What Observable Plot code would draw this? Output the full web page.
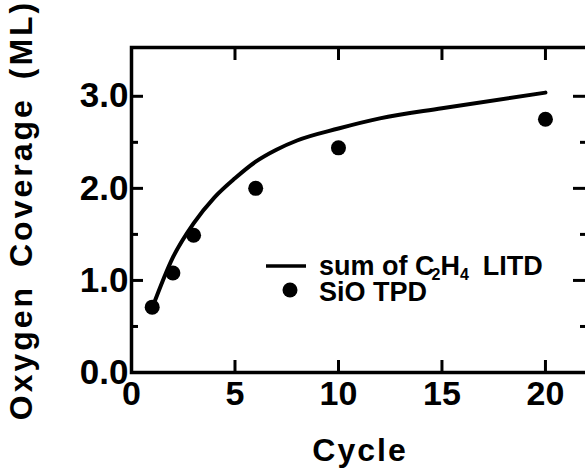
<!DOCTYPE html>
<html>
<head>
<meta charset="utf-8">
<script src="https://cdn.jsdelivr.net/npm/d3@7"></script>
<script src="https://cdn.jsdelivr.net/npm/@observablehq/plot@0.6"></script>
<style>
  html, body { margin: 0; padding: 0; background: #fff; overflow: hidden; width: 585px; height: 472px; }
  #chart { position: relative; width: 585px; height: 472px; overflow: hidden; }
  #chart svg { display: block; max-width: none !important; }
</style>
</head>
<body>
<div id="chart"></div>
<script>
// SiO TPD measurements (points)
const tpdCycles = [1, 2, 3, 6, 10, 20];
const tpdCoverage = [0.71, 1.08, 1.49, 2.0, 2.44, 2.75];

// Summed C2H4 LITD coverage (solid curve)
const litdCycles = [1, 2, 3, 4, 5, 6, 7, 8, 10, 12, 15, 20];
const litdCoverage = [0.70, 1.25, 1.62, 1.90, 2.11, 2.29, 2.42, 2.52, 2.65, 2.76, 2.87, 3.04];

// Axis ticks
const xTickValues = [0, 5, 10, 15, 20];
const yTickValues = [0, 1, 2, 3];
const yMinorValues = [0.5, 1.5, 2.5];

const xTitle = "Cycle";
const yTitle = "Oxygen Coverage (ML)";

const tpd = tpdCycles.map((c, i) => ({cycle: c, coverage: tpdCoverage[i]}));
const litd = litdCycles.map((c, i) => ({cycle: c, coverage: litdCoverage[i]}));

const W = 600, H = 472;
const mL = 131, mT = 47, mB = 100, mR = 12;
const plotW = W - mL - mR, plotH = H - mT - mB;
const FONT = "'Liberation Sans', Arial, Helvetica, sans-serif";

const chart = Plot.plot({
  width: W,
  height: H,
  marginLeft: mL,
  marginTop: mT,
  marginBottom: mB,
  marginRight: mR,
  style: {fontFamily: FONT, background: "#fff", color: "#000", overflow: "visible", maxWidth: "none"},
  x: {domain: [0, 22.08]},
  y: {domain: [0, 3.53]},
  marks: [
    // tick labels
    Plot.axisX(xTickValues, {tickSize: 0, tickPadding: 8, fontSize: 34, fontWeight: "bold", tickFormat: d => String(d), label: null}),
    Plot.axisY(yTickValues, {tickSize: 0, tickPadding: 3, fontSize: 35, fontWeight: "bold", tickFormat: d => d.toFixed(1), label: null}),
    // inward ticks: bottom and top
    Plot.tickX(xTickValues.filter(d => d > 0), {x: d => d, insetTop: plotH - 12, strokeWidth: 3}),
    Plot.tickX(xTickValues.filter(d => d > 0), {x: d => d, insetBottom: plotH - 13, strokeWidth: 3}),
    // inward ticks: left
    Plot.tickY(yTickValues.filter(d => d > 0), {y: d => d, insetRight: plotW - 12, strokeWidth: 3}),
    Plot.tickY(yMinorValues, {y: d => d, insetRight: plotW - 7, strokeWidth: 3}),
    // inward ticks: right
    Plot.tickY(yTickValues.filter(d => d > 0), {y: d => d, insetLeft: plotW - 15, strokeWidth: 3}),
    Plot.tickY(yMinorValues, {y: d => d, insetLeft: plotW - 8, strokeWidth: 3}),
    Plot.frame({strokeWidth: 3.5}),
    // data
    Plot.line(litd, {x: "cycle", y: "coverage", curve: "monotone-x", strokeWidth: 4, stroke: "#000"}),
    Plot.dot(tpd, {x: "cycle", y: "coverage", r: 7.5, fill: "#000", stroke: null}),
    // axis titles
    Plot.text([xTitle], {frameAnchor: "bottom", dy: 88, fontSize: 32, fontWeight: "bold"}),
    Plot.text([yTitle], {frameAnchor: "left", textAnchor: "middle", rotate: -90, dx: -110, fontSize: 32, fontWeight: "bold"})
  ]
});

// letter spacing on the axis titles
d3.select(chart).selectAll("text").filter(function() { return this.textContent === xTitle; })
  .style("letter-spacing", "2px");
d3.select(chart).selectAll("text").filter(function() { return this.textContent === yTitle; })
  .style("letter-spacing", "3px").style("word-spacing", "6px");

document.getElementById("chart").appendChild(chart);

// legend drawn inside the frame
const svg = d3.select(chart);
const lg = svg.append("g").attr("font-family", FONT).attr("font-weight", "bold")
  .attr("fill", "#000").attr("text-anchor", "start");
lg.append("line").attr("x1", 266).attr("x2", 306).attr("y1", 266).attr("y2", 266)
  .attr("stroke", "#000").attr("stroke-width", 3.5);
lg.append("circle").attr("cx", 290).attr("cy", 290).attr("r", 7.5).attr("fill", "#000");

const t1 = lg.append("text").attr("x", 319).attr("y", 275).attr("font-size", 27);
t1.append("tspan").text("sum of C");
t1.append("tspan").attr("font-size", 16).attr("dy", 5).attr("dx", -3).text("2");
t1.append("tspan").attr("dy", -5).text("H");
t1.append("tspan").attr("font-size", 16).attr("dy", 5).text("4");
t1.append("tspan").attr("dy", -5).attr("dx", 14).text("LITD");

lg.append("text").attr("x", 319).attr("y", 301).attr("font-size", 27).text("SiO TPD");
</script>
</body>
</html>
